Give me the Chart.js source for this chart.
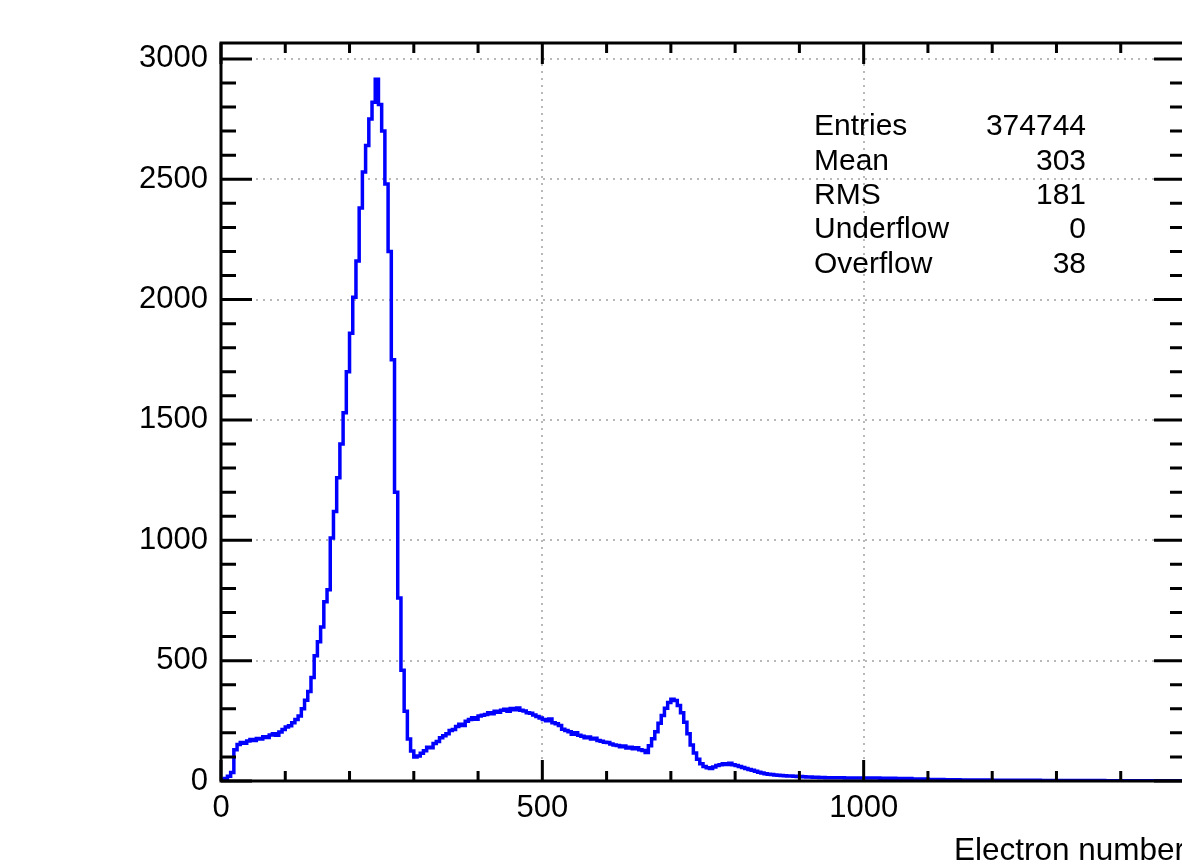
<!DOCTYPE html>
<html>
<head>
<meta charset="utf-8">
<script src="https://cdn.jsdelivr.net/npm/chart.js@4"></script>
<style>
    body { margin: 0; overflow: hidden; background: #fff; }
    canvas { display: block; }
</style>
</head>
<body>
<canvas id="histo" width="1240" height="864"></canvas>
<script>
// HISTOGRAM DATA
// bins of 5 from 0 to 1000
const fineBinWidth = 5
const fineCounts = [
    5, 10, 20, 35, 130, 152, 160, 157, 166, 172,
    168, 177, 174, 184, 181, 191, 196, 190, 204, 214,
    224, 230, 242, 256, 270, 300, 335, 372, 430, 520,
    578, 640, 745, 795, 1010, 1120, 1260, 1400, 1530, 1700,
    1860, 2010, 2160, 2380, 2530, 2640, 2750, 2820, 2915, 2810,
    2700, 2480, 2200, 1750, 1200, 760, 460, 290, 175, 125,
    100, 104, 115, 126, 140, 138, 156, 164, 180, 188,
    196, 210, 214, 226, 236, 231, 248, 256, 263, 257,
    270, 273, 276, 284, 279, 290, 286, 294, 298, 290,
    301, 296, 303, 294, 291, 284, 281, 274, 268, 262,
    255, 250, 258, 242, 238, 231, 215, 210, 205, 194,
    200, 190, 186, 180, 183, 175, 178, 168, 165, 161,
    160, 154, 150, 147, 142, 145, 137, 140, 134, 138,
    130, 127, 118, 146, 176, 205, 240, 272, 302, 326,
    340, 334, 314, 284, 244, 196, 150, 116, 90, 72,
    60, 55, 52, 58, 64, 68, 72, 69, 74, 67,
    64, 60, 56, 52, 48, 45, 40, 36, 33, 30,
    28, 27, 25, 24, 23, 22, 21, 21, 20, 19,
    19, 18, 17, 17, 16, 16, 15, 15, 14, 14,
    14, 13, 13, 13, 12, 12, 12, 12, 12, 12,
]
// bins of 25 from 1000 to 1500
const tailStart = 1000
const tailBinWidth = 25
const tailCounts = [12, 11, 10, 8, 6, 5, 4, 4, 3, 3, 3, 2, 2, 2, 2, 1, 1, 1, 1, 1]

const xMin = 0
const xMax = 1500
const yMin = 0
const yMax = 3066
const xTickValues = [0, 500, 1000, 1500]
const yTickValues = [0, 500, 1000, 1500, 2000, 2500, 3000]
const minorStepX = 100
const minorStepY = 100

const statsNames = ['Entries', 'Mean', 'RMS', 'Underflow', 'Overflow']
const statsValues = ['374744', '303', '181', '0', '38']

const axisTitle = 'Electron number'

// build step points (left edge of each bin, plus closing right edge)
const histoPoints = []
fineCounts.forEach((count, i) => {
    histoPoints.push({ x: i * fineBinWidth, y: count })
})
tailCounts.forEach((count, i) => {
    histoPoints.push({ x: tailStart + i * tailBinWidth, y: count })
})
histoPoints.push({ x: tailStart + tailCounts.length * tailBinWidth, y: tailCounts[tailCounts.length - 1] })

const fontFamily = '"Liberation Sans", Arial, Helvetica, sans-serif'

// frame, inward ticks and stats text, ROOT style
const rootFrame = {
    id: 'rootFrame',
    afterDatasetsDraw(chart) {
        const { ctx, chartArea, scales } = chart
        const { left, right, top, bottom } = chartArea
        ctx.save()
        ctx.strokeStyle = '#000'
        ctx.lineWidth = 3
        ctx.strokeRect(left, top, right - left, bottom - top)

        ctx.beginPath()
        for (let v = xMin; v <= xMax; v += minorStepX) {
            const px = scales.x.getPixelForValue(v)
            const len = xTickValues.includes(v) ? 21 : 10
            ctx.moveTo(px, bottom)
            ctx.lineTo(px, bottom - len)
            ctx.moveTo(px, top)
            ctx.lineTo(px, top + len)
        }
        for (let v = yMin; v <= yMax; v += minorStepY) {
            const py = scales.y.getPixelForValue(v)
            const len = yTickValues.includes(v) ? 31 : 15
            ctx.moveTo(left, py)
            ctx.lineTo(left + len, py)
            ctx.moveTo(right, py)
            ctx.lineTo(right - len, py)
        }
        ctx.stroke()

        // stats
        ctx.fillStyle = '#000'
        ctx.font = `30px ${fontFamily}`
        ctx.textBaseline = 'middle'
        statsNames.forEach((name, i) => {
            const rowY = 127 + i * 34.4
            ctx.textAlign = 'left'
            ctx.fillText(name, 814, rowY)
            ctx.textAlign = 'right'
            ctx.fillText(statsValues[i], 1086, rowY)
        })
        ctx.restore()
    }
}

const histoCtx = document.getElementById('histo')

new Chart(histoCtx, {
    type: 'line',
    data: {
        datasets: [{
            data: histoPoints,
            borderColor: '#0000ff',
            backgroundColor: '#0000ff',
            borderWidth: 3.5,
            pointRadius: 0,
            stepped: 'before',
            fill: false,
        }]
    },
    options: {
        responsive: false,
        animation: false,
        devicePixelRatio: 1,
        parsing: false,
        layout: {
            padding: { top: 43, right: 55, left: 0, bottom: 0 }
        },
        plugins: {
            legend: { display: false },
            title: { display: false },
            tooltip: { enabled: false },
        },
        scales: {
            x: {
                type: 'linear',
                min: xMin,
                max: xMax,
                afterFit: (scale) => { scale.height = 83 },
                afterBuildTicks: (scale) => { scale.ticks = xTickValues.map(v => ({ value: v })) },
                ticks: {
                    maxRotation: 0,
                    autoSkip: false,
                    padding: 9,
                    color: '#000',
                    font: { family: fontFamily, size: 31 },
                    callback: (value) => value < xMax ? String(value) : '',
                },
                grid: {
                    color: '#b8b8b8',
                    lineWidth: 2,
                    drawTicks: false,
                },
                border: { display: false, dash: [2, 5] },
                title: {
                    display: true,
                    text: axisTitle,
                    align: 'end',
                    color: '#000',
                    font: { family: fontFamily, size: 31.5, lineHeight: 1 },
                    padding: { top: 0, bottom: -3 },
                },
            },
            y: {
                type: 'linear',
                min: yMin,
                max: yMax,
                afterFit: (scale) => { scale.width = 221 },
                afterBuildTicks: (scale) => { scale.ticks = yTickValues.map(v => ({ value: v })) },
                ticks: {
                    autoSkip: false,
                    padding: 13,
                    color: '#000',
                    font: { family: fontFamily, size: 31 },
                    callback: (value) => String(value),
                },
                grid: {
                    color: '#b8b8b8',
                    lineWidth: 2,
                    drawTicks: false,
                },
                border: { display: false, dash: [2, 5] },
            },
        },
    },
    plugins: [rootFrame],
})
</script>
</body>
</html>
